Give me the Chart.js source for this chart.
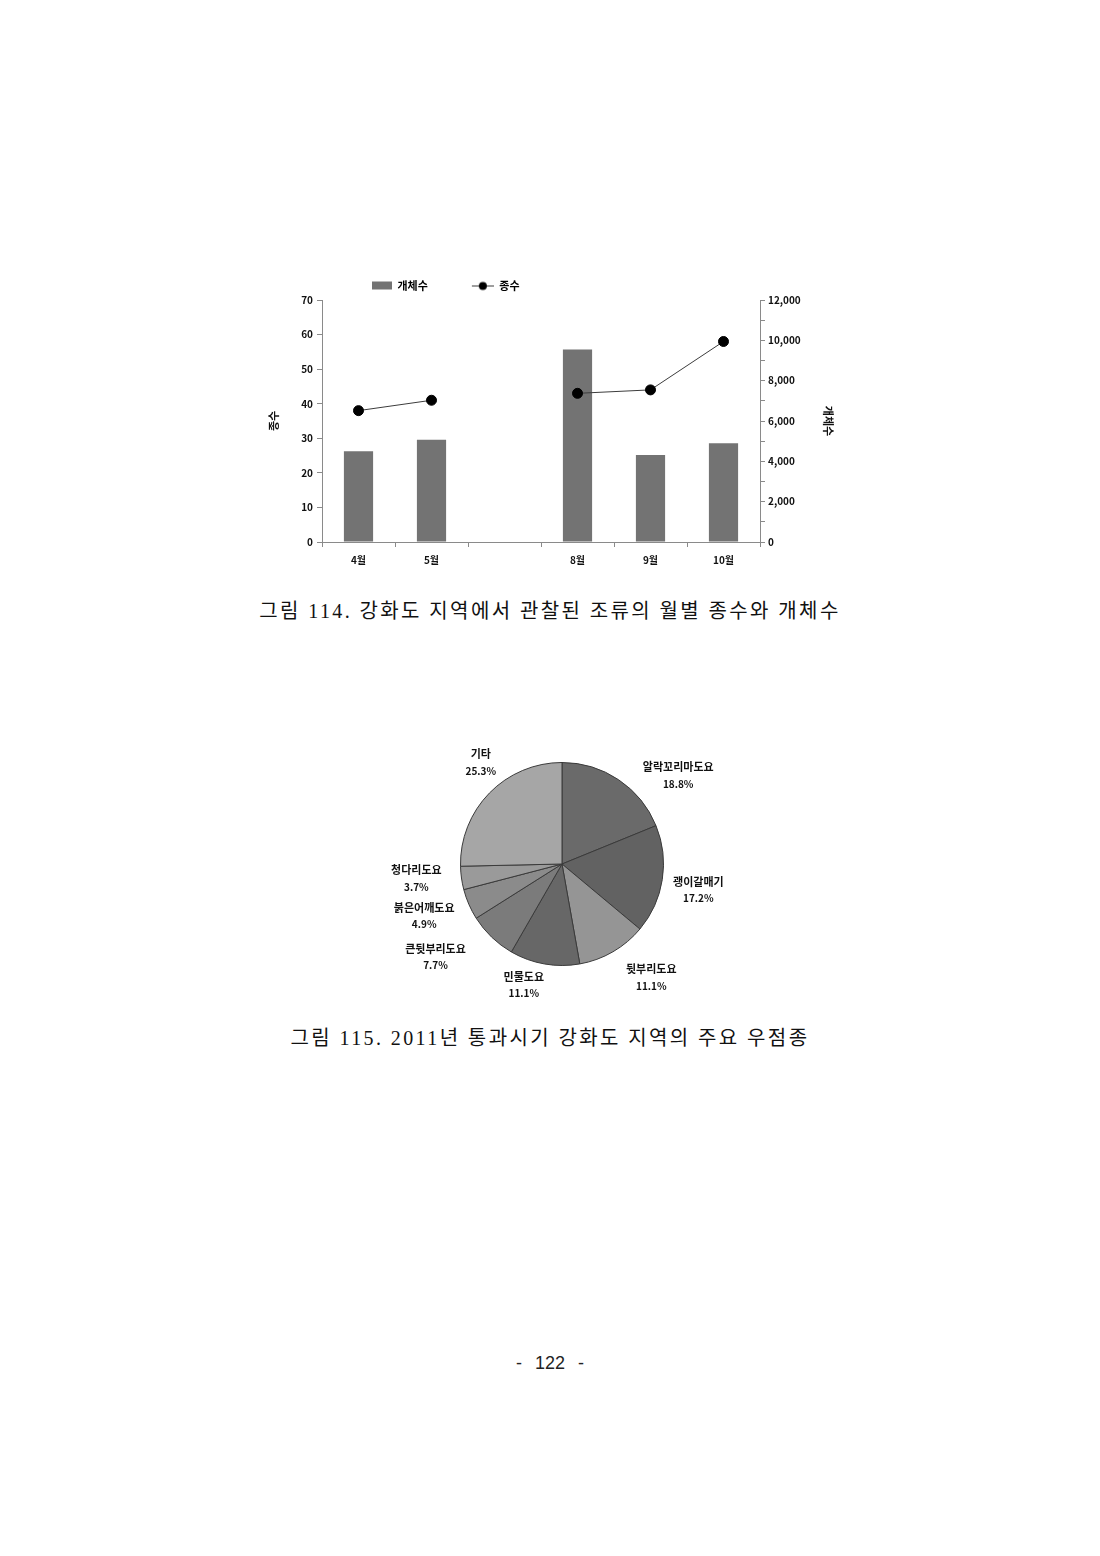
<!DOCTYPE html>
<html>
<head>
<meta charset="utf-8">
<script src="https://cdn.jsdelivr.net/npm/chart.js@4.4.1/dist/chart.umd.min.js"></script>
<style>
  html, body { margin: 0; padding: 0; background: #fff; }
  #page { position: relative; width: 1100px; height: 1556px; background: #fff; overflow: hidden; }
  #barBox { position: absolute; left: 250px; top: 270px; width: 600px; height: 310px; }
  #pieBox { position: absolute; left: 362px; top: 720px; width: 400px; height: 288px; }
  .caption { position: absolute; left: 0; width: 1100px; text-align: center;
    font-family: "Liberation Serif", "Noto Sans CJK KR", serif; font-size: 20px; line-height: 26px;
    letter-spacing: 2.4px; color: #111; }
  #cap1 { top: 598px; }
  #cap2 { top: 1025px; }
  #pageNo { position: absolute; left: 0; width: 1100px; top: 1351px; text-align: center;
    font-family: "Liberation Sans", sans-serif; font-size: 18px; line-height: 24px; word-spacing: 8px; color: #222; }
</style>
</head>
<body>
<div id="page">
  <div id="barBox"><canvas id="barChart"></canvas></div>
  <div class="caption" id="cap1">그림 114. 강화도 지역에서 관찰된 조류의 월별 종수와 개체수</div>
  <div id="pieBox"><canvas id="pieChart"></canvas></div>
  <div class="caption" id="cap2">그림 115. 2011년 통과시기 강화도 지역의 주요 우점종</div>
  <div id="pageNo">- 122 -</div>
</div>
<script>
// ---------- data ----------
const months = ['4월', '5월', '', '8월', '9월', '10월'];
const individuals = [4500, 5070, null, 9550, 4310, 4900];   // 개체수 (right axis)
const species = [38, 41, null, 43, 44, 58];                 // 종수 (left axis)
const leftTicks = [0, 10, 20, 30, 40, 50, 60, 70];
const rightTicks = [0, 2000, 4000, 6000, 8000, 10000, 12000];

const pieLabels = ['알락꼬리마도요', '괭이갈매기', '뒷부리도요', '민물도요', '큰뒷부리도요', '붉은어깨도요', '청다리도요', '기타'];
const pieValues = [18.8, 17.2, 11.1, 11.1, 7.7, 4.9, 3.7, 25.3];

// ---------- styles ----------
const FONT = "'Noto Sans CJK KR', 'Noto Sans', sans-serif";
Chart.defaults.font.family = FONT;
Chart.defaults.color = '#111';
const AXIS = '#8a8a8a';
const BAR = '#737373';
const pieColors = ['#6a6a6a', '#626262', '#959595', '#676767', '#7b7b7b', '#8b8b8b', '#9a9a9a', '#a6a6a6'];

function legendImage(kind) {
  const c = document.createElement('canvas');
  c.width = 56; c.height = 12;
  const g = c.getContext('2d');
  if (kind === 'bar') {
    g.fillStyle = BAR; g.fillRect(36, 2, 20, 8);
  } else {
    g.strokeStyle = '#3c3c3c'; g.lineWidth = 1;
    g.beginPath(); g.moveTo(34, 6.5); g.lineTo(56, 6.5); g.stroke();
    g.fillStyle = '#000'; g.beginPath(); g.arc(45, 6.5, 4, 0, Math.PI * 2); g.fill();
  }
  return c;
}

const legendFix = {
  id: 'legendFix',
  afterInit(chart) {
    const lg = chart.legend;
    const orig = lg.fit.bind(lg);
    lg.fit = function () { orig(); this.height = 30; };
  },
  afterLayout(chart) {
    const lg = chart.legend;
    const w = lg.right - lg.left;
    lg.left = 86 - lg.options.labels.padding;
    lg.right = lg.left + w;
  }
};

new Chart(document.getElementById('barChart'), {
  data: {
    labels: months,
    datasets: [
      {
        type: 'line', label: '종수', data: species, yAxisID: 'y', order: 0,
        borderColor: '#3c3c3c', borderWidth: 1, spanGaps: false,
        pointRadius: 5, pointHoverRadius: 5, pointBackgroundColor: '#000', pointBorderColor: '#000'
      },
      {
        type: 'bar', label: '개체수', data: individuals, yAxisID: 'y1', order: 1,
        backgroundColor: BAR, barPercentage: 0.4, categoryPercentage: 1.0
      }
    ]
  },
  options: {
    responsive: true, maintainAspectRatio: false, animation: false,
    plugins: {
      legend: {
        position: 'top', align: 'start',
        labels: {
          usePointStyle: true, pointStyleWidth: 56, padding: 10,
          font: { size: 11, weight: 'bold' }, color: '#111',
          generateLabels(chart) {
            return [
              { text: '개체수', pointStyle: legendImage('bar'), datasetIndex: 1, hidden: false, lineWidth: 0 },
              { text: '종수', pointStyle: legendImage('line'), datasetIndex: 0, hidden: false, lineWidth: 0 }
            ];
          }
        }
      },
      tooltip: { enabled: false }
    },
    scales: {
      x: {
        type: 'category',
        grid: { display: true, drawOnChartArea: false, drawTicks: true, tickLength: 5, tickColor: AXIS, offset: true },
        border: { display: true, color: AXIS, width: 1 },
        ticks: { font: { size: 10, weight: 'bold' }, padding: 7, color: '#111', maxRotation: 0, autoSkip: false },
        afterFit(s) { s.height = 38; }
      },
      y: {
        position: 'left', min: 0, max: 70,
        grid: { display: true, drawOnChartArea: false, drawTicks: true, tickLength: 5, tickColor: AXIS },
        border: { display: true, color: AXIS, width: 1 },
        ticks: {
          stepSize: 10, font: { size: 10, weight: 'bold' }, padding: 4, color: '#111', autoSkip: false,
          callback: v => leftTicks.includes(v) ? String(v) : ''
        },
        title: { display: true, text: '종수', font: { size: 11, weight: 'bold' }, color: '#111', padding: { top: 17, bottom: 0 } },
        afterFit(s) { s.width = 72; }
      },
      y1: {
        position: 'right', min: 0, max: 12000,
        grid: { display: true, drawOnChartArea: false, drawTicks: true, tickLength: 5, tickColor: AXIS },
        border: { display: true, color: AXIS, width: 1 },
        ticks: {
          stepSize: 1000, font: { size: 10, weight: 'bold' }, padding: 3, color: '#111', autoSkip: false,
          callback: v => rightTicks.includes(v) ? v.toLocaleString('en-US') : ''
        },
        title: { display: true, text: '개체수', font: { size: 11, weight: 'bold' }, color: '#111', padding: { top: 15, bottom: 0 } },
        afterFit(s) { s.width = 90; }
      }
    }
  },
  plugins: [legendFix]
});

// pie labels: anchored at slice mid-angle just outside the rim, with small per-label layout nudges
const pieLabelPlugin = {
  id: 'pieLabels',
  afterDatasetsDraw(chart, args, opts) {
    const ctx = chart.ctx;
    const meta = chart.getDatasetMeta(0);
    const nudges = opts.nudges || [];
    ctx.save();
    ctx.fillStyle = '#111';
    ctx.textAlign = 'center';
    ctx.textBaseline = 'middle';
    meta.data.forEach((arc, i) => {
      const p = arc.getProps(['x', 'y', 'startAngle', 'endAngle', 'outerRadius'], true);
      const mid = (p.startAngle + p.endAngle) / 2;
      const r = p.outerRadius + 20;
      const ax = p.x + Math.cos(mid) * r;
      const ay = p.y + Math.sin(mid) * r;
      const name = chart.data.labels[i];
      const pct = chart.data.datasets[0].data[i].toFixed(1) + '%';
      ctx.font = `bold 11px ${FONT}`;
      const w1 = ctx.measureText(name).width;
      ctx.font = `bold 10px ${FONT}`;
      const w2 = ctx.measureText(pct).width;
      const w = Math.max(w1, w2);
      const n = nudges[i] || [0, 0];
      const cx = (Math.cos(mid) >= 0 ? ax + w / 2 : ax - w / 2) + n[0];
      const cy = ay + n[1];
      ctx.font = `bold 11px ${FONT}`;
      ctx.fillText(name, cx, cy - 8);
      ctx.font = `bold 10px ${FONT}`;
      ctx.fillText(pct, cx, cy + 9);
    });
    ctx.restore();
  }
};

new Chart(document.getElementById('pieChart'), {
  type: 'pie',
  data: {
    labels: pieLabels,
    datasets: [{
      data: pieValues, backgroundColor: pieColors,
      borderColor: '#3a3a3a', borderWidth: 1
    }]
  },
  options: {
    responsive: true, maintainAspectRatio: false, animation: false,
    layout: { padding: { top: 42, bottom: 42, left: 0, right: 0 } },
    plugins: {
      legend: { display: false },
      tooltip: { enabled: false },
      pieLabels: { nudges: [[13, 12], [-9, 7], [3, 8], [3, 1], [-12, 5], [4, 3], [0, -3], [21, -17]] }
    }
  },
  plugins: [pieLabelPlugin]
});
</script>
</body>
</html>
